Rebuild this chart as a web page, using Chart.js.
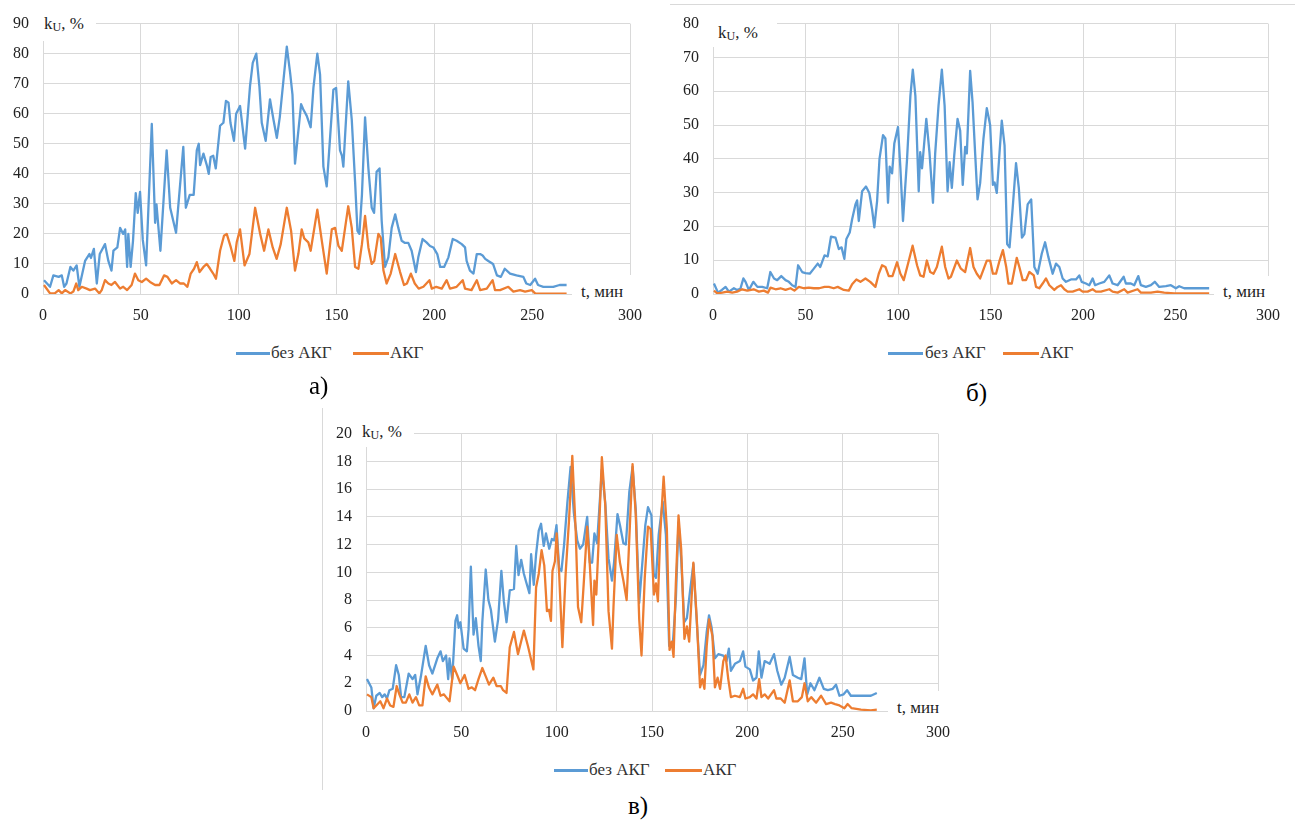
<!DOCTYPE html>
<html>
<head>
<meta charset="utf-8">
<script src="https://cdn.jsdelivr.net/npm/chart.js@4.4.1/dist/chart.umd.min.js"></script>
<style>
  html, body { margin:0; padding:0; background:#fff; }
  body { width:1295px; height:821px; position:relative; overflow:hidden; font-family:"Liberation Serif","DejaVu Serif","Times New Roman",serif; }
  canvas { position:absolute; }
  .box { position:absolute; background:#fff; box-sizing:border-box; font-size:17px; line-height:20px; color:#222; white-space:nowrap; }
  .box sub { font-size:12px; vertical-align:-2px; line-height:0; }
  .sw { position:absolute; height:2.5px; }
  .lt { position:absolute; font-size:17px; line-height:20px; color:#333; white-space:nowrap; }
  .cap { position:absolute; font-size:25px; line-height:30px; color:#000; }
  .frame { position:absolute; background:#d9d9d9; }
</style>
</head>
<body>
<canvas id="cA" width="660" height="330" style="left:0px;top:0px;"></canvas>
<canvas id="cB" width="625" height="330" style="left:670px;top:0px;"></canvas>
<canvas id="cC" width="640" height="337" style="left:322px;top:410px;"></canvas>

<div class="frame" style="left:670px;top:4px;width:625px;height:1px;"></div>
<div class="frame" style="left:322px;top:408px;width:1px;height:382px;"></div>

<!-- axis titles -->
<div class="box" style="left:38px;top:8px;width:58px;height:33px;padding:6px 0 0 6px;">k<sub>U</sub>, %</div>
<div class="box" style="left:572px;top:275px;width:68px;height:29px;padding:7px 0 0 9px;">t, мин</div>

<div class="box" style="left:710px;top:8px;width:67px;height:39px;padding:15px 0 0 8px;">k<sub>U</sub>, %</div>
<div class="box" style="left:1214px;top:276px;width:66px;height:28px;padding:6px 0 0 9px;">t, мин</div>

<div class="box" style="left:358px;top:416px;width:56px;height:31px;padding:6px 0 0 4px;">k<sub>U</sub>, %</div>
<div class="box" style="left:888px;top:691px;width:64px;height:29px;padding:7px 0 0 9px;">t, мин</div>

<!-- legends -->
<div class="sw" style="left:236px;top:352px;width:34px;background:#5b9bd5;"></div>
<div class="lt" style="left:271px;top:343px;">без АКГ</div>
<div class="sw" style="left:353px;top:352px;width:36px;background:#ed7d31;"></div>
<div class="lt" style="left:390px;top:343px;">АКГ</div>

<div class="sw" style="left:888px;top:352px;width:35px;background:#5b9bd5;"></div>
<div class="lt" style="left:925px;top:343px;">без АКГ</div>
<div class="sw" style="left:1003px;top:352px;width:36px;background:#ed7d31;"></div>
<div class="lt" style="left:1040px;top:343px;">АКГ</div>

<div class="sw" style="left:554px;top:769px;width:34px;background:#5b9bd5;"></div>
<div class="lt" style="left:589px;top:760px;">без АКГ</div>
<div class="sw" style="left:665px;top:769px;width:37px;background:#ed7d31;"></div>
<div class="lt" style="left:703px;top:760px;">АКГ</div>

<!-- captions -->
<div class="cap" style="left:309px;top:371px;">а)</div>
<div class="cap" style="left:966px;top:378px;">б)</div>
<div class="cap" style="left:628px;top:791px;">в)</div>

<script>
// ---- data: [t, kU] pairs ----
const aBlue = [[0.5,4.6],[3.6,2.4],[5.3,6.2],[8,5.7],[9.6,6.2],[10.8,2.4],[12,3.5],[14,9],[15.5,7.8],[17.2,9.5],[18.6,2.4],[21.5,11],[23.7,13.3],[24.5,12],[26,15],[27.5,3.5],[29,13.3],[31.7,16.6],[33.4,11],[35,7.8],[36,14.4],[38,15.5],[39.4,22],[41,20],[42,21.5],[43,9],[43.6,20],[44.8,9],[46,17.7],[47.4,33.6],[48.4,27],[49.6,34],[51,18],[52.7,9.5],[55.6,56.6],[57.3,23.7],[58,29.8],[60,14.4],[63.2,47.8],[65,28.7],[68,20.4],[71.7,49],[73,28.7],[75,33],[77,33],[78.6,47.8],[79.6,50],[80.3,42.9],[82,46.7],[83.7,42.9],[84.7,40],[85.7,45.6],[87,46],[88.3,41.8],[90.5,56],[92.2,57],[93.5,64.3],[94.8,63.7],[95.8,57],[97.6,51],[98.7,60],[100.7,62.6],[103.3,48.4],[105.8,69.2],[107.2,76.9],[109,80],[110.6,69],[111.8,57],[113.8,51],[116,64.8],[117.8,58],[119.5,52],[121,58.8],[124.6,82.3],[126.3,73.6],[127.5,66.4],[128.8,43.4],[131.9,63.2],[133,61.5],[134.8,59.3],[136.8,55.5],[138.2,68.6],[140.2,80],[141.6,73],[143.3,42.4],[145,35.8],[148.4,68],[149.8,68.6],[151.8,47.8],[152.8,46],[153.5,42.4],[154.4,52.8],[156,70.8],[157.8,58],[159.5,37.4],[160.7,21],[161.7,20],[163,33],[164.6,58.8],[166.3,41.8],[168,28.7],[169.2,27],[170.5,40.7],[172,41.8],[173.1,24.3],[174.8,9],[176.5,12.2],[178.2,22],[180,26.5],[181.6,22],[183.3,17.7],[185,17],[186.7,17],[188.4,14.4],[190.6,7.3],[191.8,12.2],[194,18.3],[196,17.2],[197.8,16],[199.5,15.5],[201.5,13.3],[203,9],[205,9],[207.2,12.2],[209.4,18.3],[211.4,17.7],[214,16.6],[215.7,15.5],[216.5,11],[218.2,7.8],[220,6.8],[221.7,13.3],[223.4,13.3],[224.7,12.8],[226,11.7],[227.6,11],[230,10],[232,6.2],[234,5.7],[236,8.4],[238.7,6.8],[242,6.2],[245.5,5.7],[247,3.5],[249,3],[251.5,5.1],[253,3],[255.7,2.4],[260.8,2.4],[264,3],[267.6,3]];
const aOrange = [[0.5,3],[3.6,0.2],[6,0.2],[8,1.3],[9.6,0.2],[11.3,1.3],[14,0.2],[15.5,0.8],[17,3.5],[18,1.3],[19.8,2.4],[22.3,1.8],[24,1.3],[26.6,1.8],[28.8,0.2],[30,1.3],[31.7,4.6],[33.4,3.5],[35,3],[36.8,4],[39.4,1.8],[41,2.4],[43,1.3],[45.3,3],[47,6.8],[48.7,4.6],[50.5,4],[52.7,5.1],[54.7,4],[57.3,3],[59.5,3],[61.9,6.2],[63.6,5.7],[65.8,3.5],[68,4.6],[70,3.5],[72,3.5],[73.8,2.4],[75.5,6.8],[77.2,8.4],[78.6,10.6],[80,7.3],[82,9],[83.7,10],[85.4,8.4],[87,6.8],[88.4,5.1],[90.5,14.4],[92.5,19.4],[93.9,20],[96,15.5],[97.8,11],[99,17.2],[100.7,21.5],[103,9.5],[105.5,13.3],[108.4,28.7],[111,20],[113,14.4],[115.2,21.5],[117.4,15.5],[119.4,11.7],[121.5,16.6],[124.6,28.7],[126.8,21],[128.8,7.8],[130.5,13.3],[132.2,21.5],[133.5,18.5],[135.6,17.2],[136.8,14.4],[140.2,28.1],[142.5,17.7],[145,6.8],[147.6,21.5],[149.3,22],[151,16],[152.7,14.4],[154.4,22],[156,29.2],[157.8,22],[159.5,9],[161.2,8.4],[163,16.6],[164.6,26],[166.3,15.5],[168,10],[169.3,11],[171.4,20],[172.6,18.8],[174,7.8],[175.6,3.5],[177.7,6.8],[180,13.3],[182.5,7.3],[184.5,3],[186,3.5],[188,6.8],[190,3.5],[192,1.8],[194.4,2.4],[197.5,4.6],[198.7,1.8],[201,2.4],[203.8,1.8],[206.3,4.6],[208,1.8],[211.4,2.4],[214.5,4.6],[215.7,1.8],[219,1.3],[221.7,4.6],[223.4,1.3],[226.8,1.8],[229.8,4.6],[231,1.3],[233.6,1.3],[237.8,2.4],[240.4,0.8],[243.8,1.3],[246.4,0.8],[249.8,1.3],[251.5,0.2],[255.7,0.1],[267.6,0.1]];

const bBlue = [[0.5,3.1],[2.7,0.4],[4.8,1.2],[6.8,2.1],[8.6,0.7],[11.3,1.7],[13,1.2],[14.8,1.5],[16.4,4.6],[17.6,3.6],[19.4,1.2],[21.8,3.6],[24,2.1],[26.6,2.1],[29.3,1.7],[31,6.5],[33,4.6],[34.7,4.1],[36.9,5.3],[39.2,4.1],[41,3.6],[42.8,2.6],[44.6,2.1],[46,8.5],[48.2,6.5],[50,6.2],[52.3,6],[54.5,7.5],[56.6,9],[58,8],[60.3,11.4],[62,11.1],[63.8,17],[66.2,16.7],[68,13.3],[69.5,13.8],[71,10.4],[72.1,16.3],[73.9,18.2],[75.2,22.1],[77,26.5],[77.9,27.7],[78.8,21.6],[80.6,30.4],[82.7,31.8],[84.5,29.9],[86,25],[87.2,19.7],[88.7,27.5],[90,40],[91.9,47],[93.2,46],[94.6,27],[95.5,37.7],[96.8,35.7],[98,44.5],[100,49.4],[101.3,37.2],[102.7,21.6],[104.9,40],[106.7,58.6],[108,66.4],[109.4,58.6],[111.2,30.4],[112,42],[113,37.2],[115.3,51.8],[117,42],[118.9,27],[120.1,41.6],[121.9,55.7],[123.7,66.4],[125.2,55.7],[126.8,30.4],[127.9,39],[129.1,31.4],[130.4,41],[132.2,51.8],[133.6,48.4],[135,32.3],[136.3,43.5],[137.2,41.6],[139,66],[140.3,56.7],[141.7,41.6],[143,28],[144.4,32.8],[146.2,46],[148,55],[149.8,50],[151.3,32.3],[152.2,33],[153.4,29.9],[154.9,42],[156.1,51.3],[157.6,44],[159,14.8],[160.3,13.8],[162,25.5],[163.8,38.7],[165.3,31.4],[167,16.7],[168.3,17.7],[170.1,26.5],[172,28],[173.7,8],[175.5,6],[177.7,11.9],[179.5,15.3],[181.3,10.9],[183.6,6],[185.4,9],[187.2,8],[189,4.6],[190.8,3.6],[193.5,4.3],[196.2,4.3],[198,5.5],[199.3,3.6],[201.6,3.1],[203.4,2.6],[205.2,4.6],[206.5,2.6],[208.8,3.1],[211.5,3.6],[214.2,5.5],[216,3.1],[218.7,2.6],[222,5.1],[223.2,3.1],[225.9,3.1],[227.7,2.6],[229.9,5.3],[231.3,2.6],[234,2.1],[236.7,2.6],[238.8,3.6],[241.2,2.1],[244.8,2.3],[247.5,2.6],[250.2,1.7],[252,2.3],[254.7,1.7],[260,1.7],[268.2,1.7]];
const bOrange = [[0.5,1],[2.3,0.2],[5,0.4],[7.7,0.7],[10.4,0.4],[13,0.7],[15.8,1.4],[18.5,1],[22,1.4],[24.8,0.7],[27.5,1],[29.7,0.4],[31.1,1.9],[33.8,1.4],[36.5,1.7],[39.2,1.2],[41.9,1.7],[44,1],[46.4,2.1],[49.1,1.7],[51.8,1.9],[54.5,1.7],[57.4,1.7],[60.3,2.1],[62.6,2.1],[65.3,1.7],[67.4,2.1],[70.7,1.2],[73.4,1],[75.2,2.9],[77.5,4.3],[79.7,3.6],[82.4,4.6],[85,3.6],[87.8,2.1],[89.6,6],[91.4,8.5],[93.2,8],[95,5.3],[97,5.3],[99.5,9.4],[101.3,6],[103.1,4.1],[105.2,8.5],[107.9,14.3],[110.3,8.5],[112,5.5],[113.8,5.1],[115.6,9.9],[117.4,6.5],[119.2,6],[121,8],[123.7,14],[125.5,8],[127.3,4.6],[128.6,5.1],[131.8,9.9],[134,7.5],[136.3,6.5],[139,13.6],[140.8,8],[142.6,6],[144.4,4.6],[148,9.9],[149.8,9.9],[151.3,6],[153,6],[154.9,9.9],[156.7,13],[158.5,8],[159.7,3.1],[161.5,3.1],[164.2,10.7],[165.6,8],[167.4,4.1],[169.2,4.1],[171,6.5],[173.4,5.5],[174.6,2.1],[176.4,1.7],[178.2,3.1],[180,4.6],[181.8,2.6],[184.5,1.2],[186.3,2.1],[188.1,2.6],[189.9,1.4],[191.7,0.7],[194.4,0.7],[198,1.4],[199.8,0.7],[202.5,0.7],[205.2,1.4],[207,0.7],[209.7,0.7],[214.2,1.4],[216,0.7],[218.7,0.4],[222.3,1.4],[224.1,0.4],[229.5,1.4],[231.3,0.4],[236.7,0.4],[240.3,0.7],[243.9,0.4],[249.3,0.2],[254.7,0.2],[268.2,0.2]];

const cBlue = [[0.5,2.3],[2.8,1.7],[4,0.2],[5.4,1.1],[7.2,1.3],[8.5,1],[9.8,1.2],[11,0.9],[12.3,1.5],[14,1.6],[15.8,3.3],[17.2,2.6],[18.4,1],[20.1,1],[22.4,2.7],[24.4,2.3],[25.8,2.6],[27,1.2],[28.8,2.5],[31.3,4.7],[33.1,3.3],[34.8,2.7],[37.4,3.8],[39.1,4.3],[40.3,3.6],[42,4],[43.1,2.3],[43.8,3.8],[45.2,2.3],[46.9,6.5],[47.8,6.9],[48.6,6],[49.5,6.4],[51.2,4.5],[52.9,4.3],[53.8,5.9],[55,10.4],[56.4,5.5],[57.6,6.7],[59,4.7],[60.2,3.6],[61,6.4],[62.8,10.2],[64.2,8],[65.5,7.3],[67.6,5],[69.3,6.6],[71,10.1],[72.3,7.9],[73.7,6.4],[75.4,8.7],[77.6,8.8],[78.8,11.9],[80,9.8],[81.4,10.9],[82.8,9.9],[84,9.3],[85.7,8.5],[86.6,11.3],[88,9.1],[89.2,11.3],[90.6,13],[91.8,13.5],[93.2,11.9],[94.4,12.8],[96.1,11.7],[97.5,12.4],[98.7,12.3],[99.9,13.4],[101.3,10.3],[102.5,10.1],[103.9,12],[105.6,15],[107.3,17.6],[109,14.3],[110.8,12.3],[112.2,11.7],[113.9,12],[116,14],[117.4,10.7],[118.6,10.7],[119.8,12.8],[121.2,12.1],[123.7,17.4],[125.5,15],[127.2,11],[129,9.4],[130.1,10.7],[131.9,14.2],[133.2,13.4],[135,12.1],[136.3,12],[138.1,15.8],[139.8,17.6],[141.5,14.5],[143.3,7.8],[144.6,10.1],[146.5,13.4],[147.9,14.7],[149.7,14.1],[150.9,9.9],[152.1,9.6],[153.5,12.7],[155.6,15.1],[157.3,12.7],[159,4.7],[160.8,4.6],[162.5,8],[163.9,13.6],[165.3,11],[166.9,6.4],[168.3,6.7],[170,8.7],[171.7,10.6],[173.5,6.4],[175.2,2.6],[177,3.3],[178.7,5.7],[179.9,6.9],[181.3,6],[183,3.8],[184.8,4.1],[187.4,4],[189.1,3.6],[190.3,4.5],[191.4,2.9],[193.5,3.4],[196.1,3.6],[197.8,4.3],[199,3.2],[201.3,3],[203,2.2],[204.8,2.4],[206,4.3],[207.4,2.4],[209.1,3.6],[211.7,3.4],[214,4.1],[215.7,2.9],[217.8,1.9],[219.6,2.4],[222.2,3.9],[223.9,2.6],[226.5,2.4],[228.3,2.3],[230,3.8],[231.4,1.2],[233.1,2],[235.2,1.5],[237.8,2.4],[240.1,1.6],[242.2,1.5],[244.8,1.6],[246.5,1.9],[248.3,1.1],[250.5,1.2],[252.3,1.5],[254.3,1.1],[257.8,1.1],[261.3,1.1],[264.8,1.1],[267.9,1.3]];
const cOrange = [[0.5,1.2],[2.8,1],[4,0.2],[5.4,0.4],[7.5,0.7],[9.2,0.2],[11,0.9],[12.7,0.4],[14.4,0.3],[16.1,1.8],[17.5,1.2],[19.2,0.6],[20.9,0.6],[22.7,1.2],[24.4,0.6],[26.2,1],[27.9,0.4],[29.6,0.4],[31.3,2.5],[33,1.7],[34.8,1.2],[37.4,1.9],[39.1,1.1],[40.8,1.2],[42,1],[43.8,0.7],[46,3.2],[47.8,2.6],[49.5,2],[51.7,2.6],[53.8,1.6],[55.5,1.7],[57.2,1.5],[59,2.3],[61,3.1],[62.8,2.5],[64.5,1.9],[66.8,2.4],[68.5,1.8],[70.7,1.8],[71.9,1.5],[73.7,1.3],[75.4,4.6],[77.6,5.7],[79.7,4.1],[82.8,5.8],[84.9,4.7],[87.8,3],[89.2,8.9],[90.6,9.9],[92.1,11.6],[93.5,10.5],[94.9,7.2],[96,7.3],[97,6.5],[97.8,10.1],[99.1,10.8],[100,12.8],[101.3,9.9],[103,4.6],[104.7,9.9],[106.5,13.8],[108.2,18.4],[110,12.9],[111.2,7.5],[112.9,6.4],[114.2,9.2],[116,13.3],[117.4,10.5],[119.1,6.2],[119.8,9.4],[120.8,8.4],[122,12.2],[123.7,18.3],[125.5,14.8],[127.2,7.2],[129,4.5],[129.8,7.5],[131.5,12.7],[133.2,10.7],[135,9.4],[136.7,8],[139.8,17.8],[141.5,14.1],[143.3,6.6],[144.5,4],[146.2,9.6],[147.9,13.3],[149.3,13.1],[151,8.4],[152.1,9.2],[153.1,7.9],[154.3,12.7],[156.1,16.9],[157.8,13.1],[159.2,4.4],[160.4,5],[161.3,3.9],[162.5,9.2],[163.9,14.1],[165.3,11.7],[167,5.2],[168.3,6.1],[169.5,5],[170.9,8.5],[171.7,10.7],[173.5,6.6],[175.2,1.7],[176.4,2.3],[177.5,1.6],[178.7,4.7],[179.9,6.6],[181.7,5.4],[183,1.7],[184.4,2.4],[185.7,1.6],[187.4,3.6],[188.6,4],[190,2.3],[191.4,1],[193.5,1.1],[196.1,1],[197.8,1.6],[199,0.9],[201.3,1],[203,1.2],[204.8,0.9],[206.2,2.3],[207.4,1],[209.1,1.2],[210.9,0.9],[214,1.5],[215.2,0.9],[217.5,0.9],[219.6,0.6],[222.2,2.2],[223.9,0.7],[226.5,0.7],[228.6,1],[230,2],[231.7,0.7],[233.5,1],[236.1,0.6],[238.7,1.1],[241.3,0.5],[243.9,0.6],[246,0.5],[248.3,0.4],[250.9,0.2],[252.6,0.5],[254.7,0.2],[259.6,0.1],[264.8,0.05],[267.9,0.1]];

const xTicks = [0, 50, 100, 150, 200, 250, 300];
const seriesNames = ['без АКГ', 'АКГ'];
const colors = ['#5b9bd5', '#ed7d31'];

const GRID = '#d9d9d9';
const FONT = { family: '"Liberation Serif", "DejaVu Serif", "Times New Roman", serif', size: 16 };

function pts(arr) { return arr.map(p => ({ x: p[0], y: p[1] })); }

function makeChart(id, blue, orange, yMax, yStep, yW, pad) {
  return new Chart(document.getElementById(id), {
    type: 'scatter',
    data: {
      datasets: [
        { label: seriesNames[0], data: pts(blue), showLine: true, borderColor: colors[0], backgroundColor: colors[0], borderWidth: 2.3, pointRadius: 0, tension: 0, order: 2, borderJoinStyle: 'round' },
        { label: seriesNames[1], data: pts(orange), showLine: true, borderColor: colors[1], backgroundColor: colors[1], borderWidth: 2.3, pointRadius: 0, tension: 0, order: 1, borderJoinStyle: 'round' }
      ]
    },
    options: {
      responsive: false,
      animation: false,
      devicePixelRatio: 1,
      layout: { padding: pad },
      plugins: { legend: { display: false }, tooltip: { enabled: false } },
      scales: {
        x: {
          type: 'linear', min: 0, max: 300,
          afterBuildTicks: s => { s.ticks = xTicks.map(v => ({ value: v })); },
          afterFit: s => { s.height = 36; },
          grid: { color: GRID, lineWidth: 1, drawTicks: false },
          border: { display: true, color: GRID },
          ticks: { color: '#222', font: FONT, padding: 12, maxRotation: 0, autoSkip: false }
        },
        y: {
          type: 'linear', min: 0, max: yMax,
          ticks: { stepSize: yStep, color: '#222', font: FONT, padding: 14 },
          afterFit: s => { s.width = yW; },
          grid: { color: GRID, lineWidth: 1, drawTicks: false },
          border: { display: true, color: GRID }
        }
      }
    }
  });
}

function drawAll() {
  makeChart('cA', aBlue, aOrange, 90, 10, 43, { left: 0, top: 20, right: 30, bottom: 0 });
  makeChart('cB', bBlue, bOrange, 80, 10, 43, { left: 0, top: 22, right: 27, bottom: 0 });
  makeChart('cC', cBlue, cOrange, 20, 2, 44, { left: 0, top: 16, right: 22, bottom: 0 });
}
if (document.fonts && document.fonts.load) {
  Promise.all([document.fonts.load('16px "Liberation Serif"'), document.fonts.load('16px "DejaVu Serif"')]).then(drawAll, drawAll);
} else { drawAll(); }
</script>
</body>
</html>
